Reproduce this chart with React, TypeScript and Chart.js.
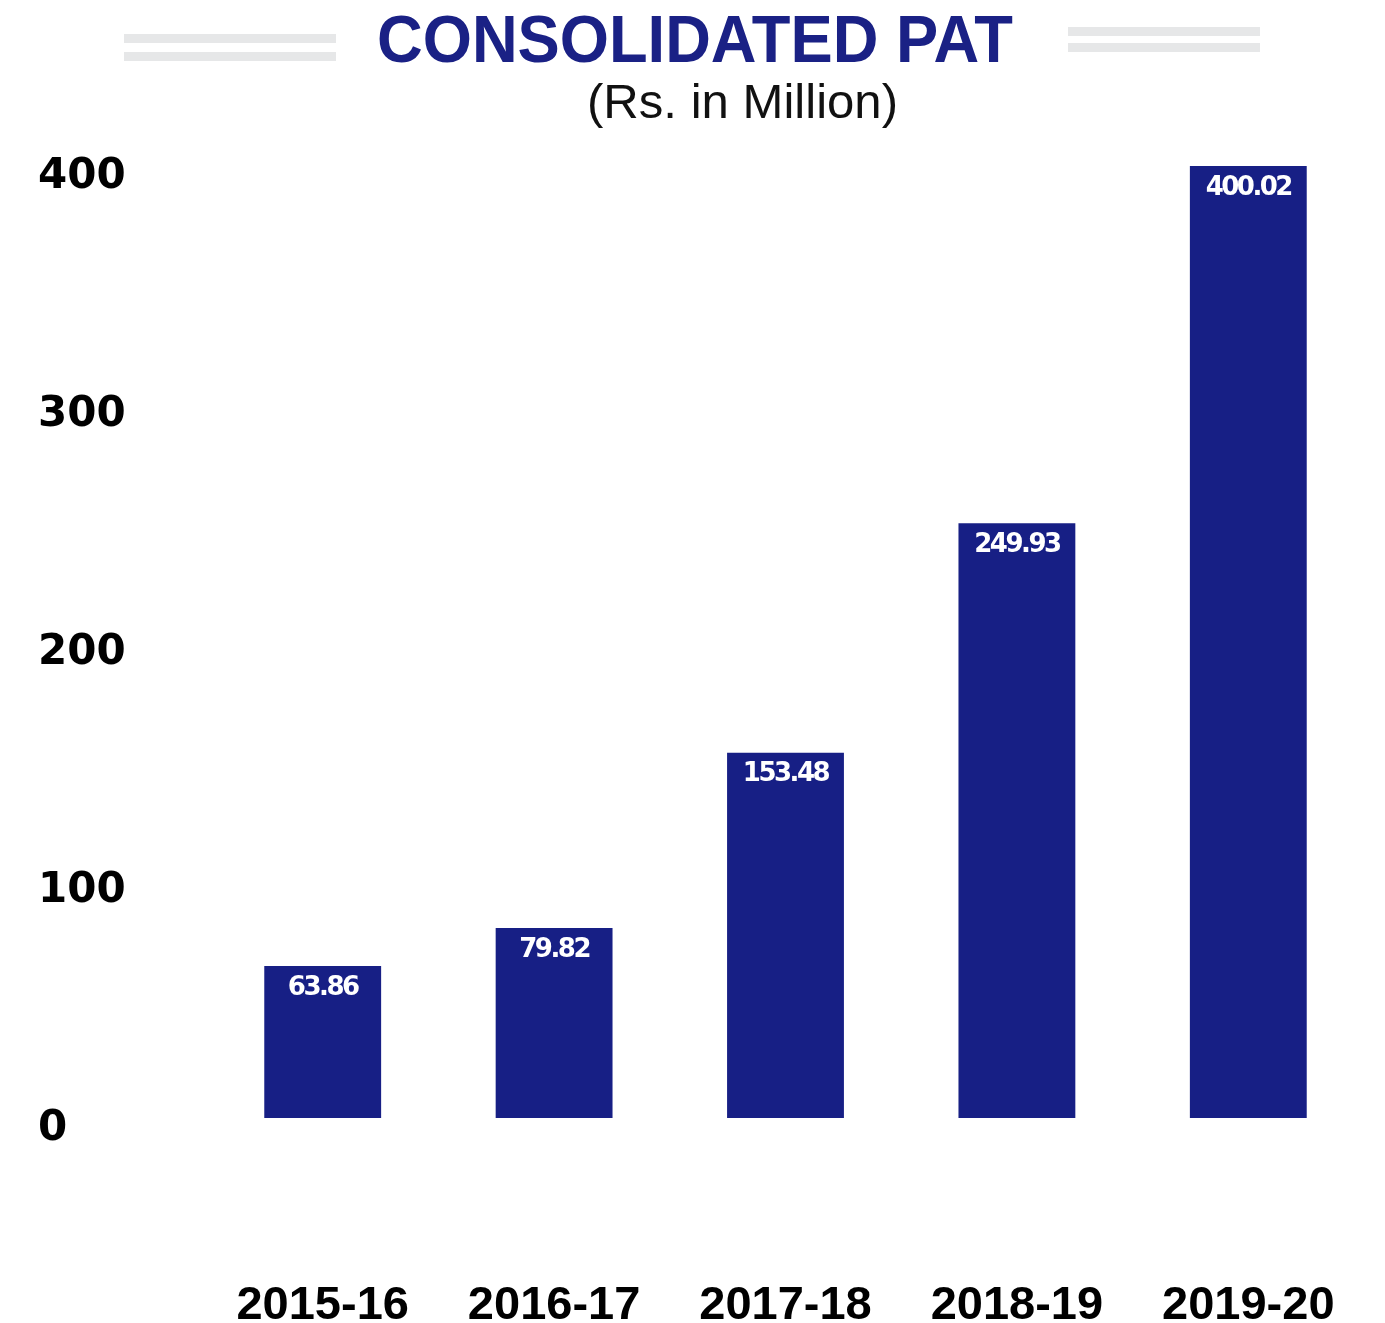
import React, { useEffect, useRef } from "react";
import { Chart, registerables } from "chart.js";

Chart.register(...registerables);

const categories = ["2015-16", "2016-17", "2017-18", "2018-19", "2019-20"];
const patValues = [63.86, 79.82, 153.48, 249.93, 400.02];
const valueLabels = ["63.86", "79.82", "153.48", "249.93", "400.02"];
const yTickValues = [0, 100, 200, 300, 400];
const titleText = "CONSOLIDATED PAT";
const subtitleText = "(Rs. in Million)";

const BAR_COLOR = "#171f85";
const TITLE_COLOR = "#1a2185";
const W = 1385;
const H = 1323;

const headerPlugin = {
  id: "headerPlugin",
  afterDraw(chart: any) {
    const ctx = chart.ctx as CanvasRenderingContext2D;
    ctx.save();
    ctx.fillStyle = "#e6e7e8";
    ctx.fillRect(124, 34, 212, 9);
    ctx.fillRect(124, 52, 212, 9);
    ctx.fillRect(1068, 27, 192, 9);
    ctx.fillRect(1068, 43, 192, 9);

    ctx.font = "bold 67px 'Liberation Sans', Arial, sans-serif";
    ctx.textAlign = "left";
    ctx.textBaseline = "alphabetic";
    const tw = ctx.measureText(titleText).width;
    const sx = 636 / tw;
    ctx.translate(377, 62);
    ctx.scale(sx, 1);
    ctx.fillStyle = TITLE_COLOR;
    ctx.fillText(titleText, 0, 0);
    ctx.restore();

    ctx.save();
    ctx.font = "49px 'Liberation Sans', Arial, sans-serif";
    ctx.textAlign = "left";
    ctx.textBaseline = "alphabetic";
    const sw = ctx.measureText(subtitleText).width;
    ctx.translate(587, 118);
    ctx.scale(311 / sw, 1);
    ctx.fillStyle = "#111111";
    ctx.fillText(subtitleText, 0, 0);
    ctx.restore();
  },
};

const valueLabelPlugin = {
  id: "valueLabelPlugin",
  afterDatasetsDraw(chart: any) {
    const ctx = chart.ctx as CanvasRenderingContext2D;
    const meta = chart.getDatasetMeta(0);
    ctx.save();
    ctx.font = "bold 26px 'DejaVu Sans', Verdana, sans-serif";
    (ctx as any).letterSpacing = "-2.5px";
    ctx.fillStyle = "#ffffff";
    ctx.textAlign = "center";
    ctx.textBaseline = "middle";
    meta.data.forEach((bar: any, i: number) => {
      ctx.fillText(valueLabels[i], bar.x, bar.y + 22);
    });
    ctx.restore();
  },
};

export default function App() {
  const canvasRef = useRef<HTMLCanvasElement | null>(null);

  useEffect(() => {
    if (!canvasRef.current) return;
    const chart = new Chart(canvasRef.current, {
      type: "bar",
      data: {
        labels: categories,
        datasets: [
          {
            data: patValues,
            backgroundColor: BAR_COLOR,
            borderWidth: 0,
            barPercentage: 0.505,
            categoryPercentage: 1,
          },
        ],
      },
      options: {
        responsive: false,
        animation: false,
        layout: { padding: { left: 38, right: 21, top: 166, bottom: 0 } },
        plugins: {
          legend: { display: false },
          tooltip: { enabled: false },
          title: { display: false },
        },
        scales: {
          x: {
            grid: { display: false, drawTicks: false },
            border: { display: false },
            ticks: {
              color: "#000000",
              font: { family: "'Liberation Sans', Arial, sans-serif", weight: "bold", size: 47 },
              padding: 160,
              maxRotation: 0,
              autoSkip: false,
            },
            afterFit(scale: any) {
              scale.height = 205;
              scale.paddingLeft = 0;
              scale.paddingRight = 0;
            },
          },
          y: {
            min: 0,
            max: 400,
            grid: { display: false, drawTicks: false },
            border: { display: false },
            afterBuildTicks(scale: any) {
              scale.ticks = yTickValues.map((v) => ({ value: v }));
            },
            ticks: {
              color: "#000000",
              crossAlign: "far",
              padding: 0,
              labelOffset: 11,
              font: { family: "'DejaVu Sans', Verdana, sans-serif", weight: "bold", size: 42 },
            },
            afterFit(scale: any) {
              scale.width = 169;
              scale.paddingTop = 0;
              scale.paddingBottom = 0;
            },
          },
        },
      },
      plugins: [headerPlugin, valueLabelPlugin],
    } as any);
    return () => chart.destroy();
  }, []);

  return (
    <div style={{ position: "absolute", left: 0, top: 0, width: W, height: H, background: "#ffffff" }}>
      <canvas ref={canvasRef} width={W} height={H} style={{ display: "block", width: W, height: H }} />
    </div>
  );
}
